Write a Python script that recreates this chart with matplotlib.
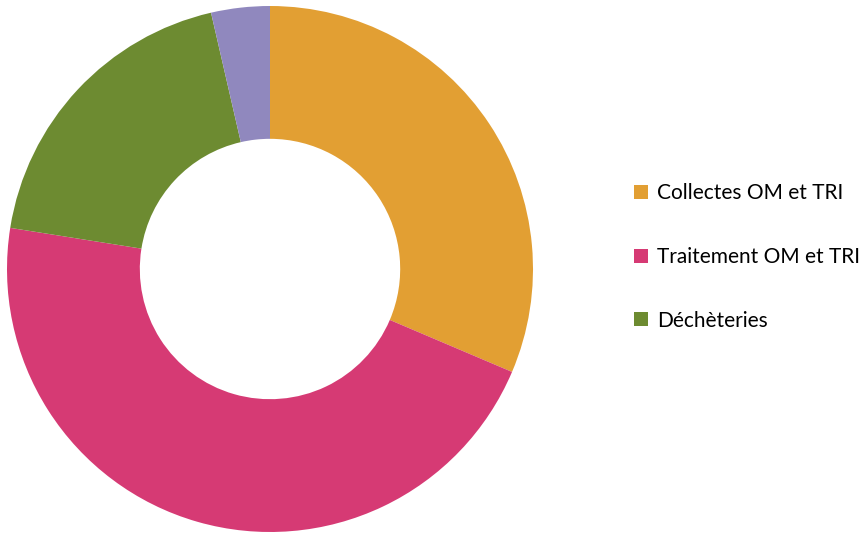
import matplotlib
matplotlib.use('Agg')
import matplotlib.pyplot as plt

# données (parts estimées sur le graphique)
labels = ['Collectes OM et TRI', 'Traitement OM et TRI', 'Déchèteries', 'Autres']
values = [31.4, 46.1, 18.9, 3.6]
colors = ['#E29F33', '#D63A74', '#6D8B31', '#9088BE']

fig = plt.figure(figsize=(8.65, 5.34), dpi=100)
ax = fig.add_axes([7 / 865, 2 / 534, 526 / 865, 526 / 534])

wedges, _ = ax.pie(values, colors=colors, startangle=90, counterclock=False,
                   radius=1, wedgeprops=dict(width=0.505, linewidth=0))
ax.set_xlim(-1, 1)
ax.set_ylim(-1, 1)
ax.set_aspect('equal')
ax.axis('off')

# légende sans la petite part
fig.legend(wedges[:3], labels[:3], loc='center left',
           bbox_to_anchor=(634 / 865, 1 - 257 / 534), frameon=False,
           prop=dict(family='Lato', size=15), labelspacing=2.1,
           handlelength=0.65, handleheight=0.65, handletextpad=0.45,
           borderaxespad=0, borderpad=0)

fig.savefig('out.png', dpi=100)
